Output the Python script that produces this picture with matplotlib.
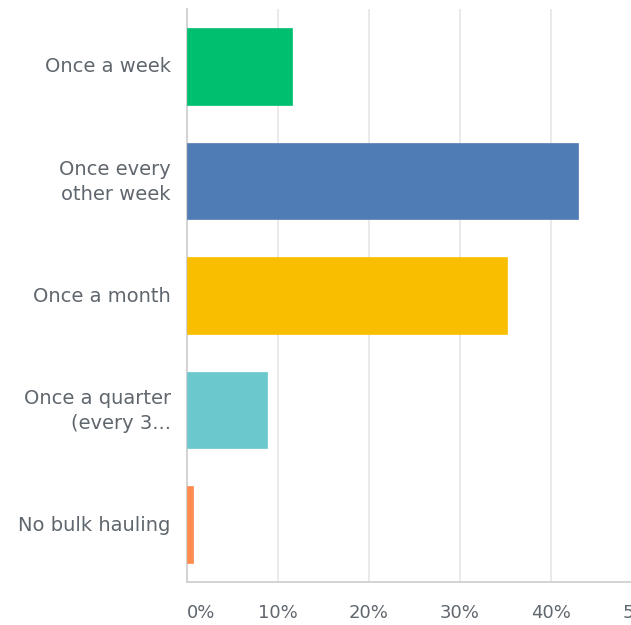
import matplotlib
matplotlib.use("Agg")
import matplotlib.pyplot as plt

categories = ["Once a week", "Once every\nother week", "Once a month",
              "Once a quarter\n(every 3...", "No bulk hauling"]
values = [11.6, 43.0, 35.2, 8.85, 0.7]
colors = ["#00BF6F", "#507CB6", "#F9BE00", "#6BC8CD", "#FF8B4F"]
xticks = [0, 10, 20, 30, 40, 50]
xtick_labels = ["0%", "10%", "20%", "30%", "40%", "50%"]

plt.rcParams['font.family'] = ['DejaVu Sans']
text_color = "#5f666d"

fig = plt.figure(figsize=(6.31, 6.25), dpi=100)
ax = fig.add_axes([186.7/631, 1 - 582/625, (642 - 186.7)/631, (582 - 9)/625])

ypos = list(range(len(categories)))
ax.barh(ypos, values, height=0.667, color=colors, zorder=3,
        edgecolor=colors, linewidth=0.5)
ax.set_ylim(len(categories) - 0.5, -0.5)
ax.set_xlim(0, 50)
ax.set_yticks(ypos)
ax.set_yticklabels([])
for y, cat in zip(ypos, categories):
    ax.annotate(cat, xy=(0, y), xycoords=('axes fraction', 'data'),
                xytext=(-11.5, -0.5), textcoords='offset points',
                ha='right', va='center', multialignment='right',
                fontsize=14, color=text_color, linespacing=1.4,
                annotation_clip=False)
ax.set_xticks(xticks)
ax.set_xticklabels(xtick_labels, fontsize=13, color=text_color)
ax.get_xticklabels()[0].set_ha('left')
ax.tick_params(axis='y', length=0)
ax.tick_params(axis='x', length=0, pad=16)
ax.grid(axis='x', color="#e6e6e6", linewidth=1.2, zorder=0)
ax.grid(axis='y', visible=False)
for s in ['top', 'right']:
    ax.spines[s].set_visible(False)
for s in ['left', 'bottom']:
    ax.spines[s].set_color("#d0d0d0")
    ax.spines[s].set_linewidth(1.3)

fig.savefig("out.png", dpi=100)
